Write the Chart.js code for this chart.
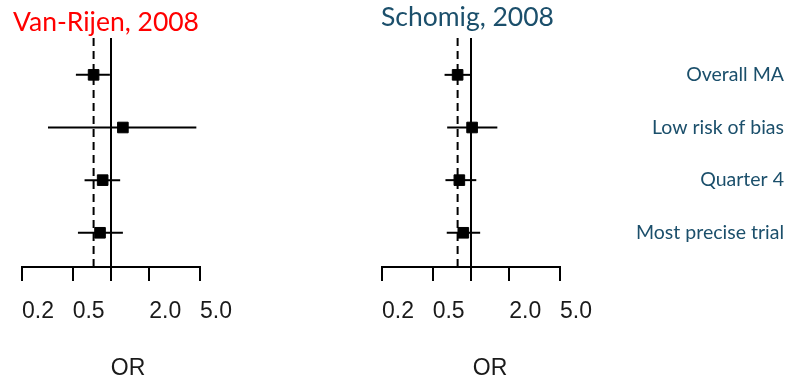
<!DOCTYPE html>
<html>
<head>
<meta charset="utf-8">
<script src="https://cdn.jsdelivr.net/npm/chart.js@4/dist/chart.umd.min.js"></script>
<style>
    html, body { margin: 0; padding: 0; background: #fff; }
    .panel { position: absolute; top: 0; height: 389px; }
    #leftPanel { left: 0; width: 360px; }
    #rightPanel { left: 360px; width: 448px; }
</style>
</head>
<body>
<div class="panel" id="leftPanel"><canvas id="leftChart"></canvas></div>
<div class="panel" id="rightPanel"><canvas id="rightChart"></canvas></div>
<script>
const rowLabels = ['Overall MA', 'Low risk of bias', 'Quarter 4', 'Most precise trial'];
const tickValues = [0.2, 0.5, 1, 2, 5];
const tickLabels = ['0.2', '0.5', '', '2.0', '5.0'];

// Van-Rijen, 2008
const vanRijenOR = [0.73, 1.24, 0.86, 0.82];
const vanRijenLow = [0.53, 0.32, 0.62, 0.55];
const vanRijenHigh = [0.98, 4.68, 1.18, 1.24];

// Schomig, 2008
const schomigOR = [0.785, 1.02, 0.81, 0.87];
const schomigLow = [0.62, 0.65, 0.63, 0.645];
const schomigHigh = [1.0, 1.61, 1.10, 1.18];

const TEAL = '#1b4f6b';
const Y_MIN = 0.3;
const Y_MAX = 4.65;

function forestDatasets(est, low, high) {
    const points = {
        data: est.map((v, i) => ({ x: v, y: i + 1 })),
        showLine: false,
        pointStyle: 'rect',
        pointRadius: 7.5,
        backgroundColor: '#000',
        borderColor: '#000',
        borderWidth: 1,
    };
    const intervals = est.map((v, i) => ({
        data: [{ x: low[i], y: i + 1 }, { x: high[i], y: i + 1 }],
        showLine: true,
        borderColor: '#000',
        borderWidth: 2,
        pointRadius: 0,
    }));
    // pooled estimate as dashed reference line
    const pooled = {
        data: [{ x: est[0], y: Y_MIN }, { x: est[0], y: Y_MAX }],
        showLine: true,
        borderColor: '#000',
        borderWidth: 2,
        borderDash: [8, 5],
        pointRadius: 0,
    };
    return [points, ...intervals, pooled];
}

function textPlugin(items) {
    return {
        id: 'panelText',
        afterDraw(chart) {
            const ctx = chart.ctx;
            ctx.save();
            items.forEach((t) => {
                ctx.font = t.font;
                ctx.fillStyle = t.color;
                ctx.textAlign = t.align || 'left';
                ctx.textBaseline = 'alphabetic';
                ctx.fillText(t.text, t.x, t.y);
            });
            ctx.restore();
        },
    };
}

function makeChart(canvasId, est, low, high, showRows, texts) {
    return new Chart(document.getElementById(canvasId), {
        type: 'scatter',
        data: { datasets: forestDatasets(est, low, high) },
        options: {
            responsive: true,
            maintainAspectRatio: false,
            animation: false,
            layout: { padding: { left: 22, right: showRows ? 24 : 160, top: 38, bottom: 0 } },
            plugins: { legend: { display: false }, tooltip: { enabled: false } },
            scales: {
                x: {
                    type: 'logarithmic',
                    min: 0.2,
                    max: 5,
                    afterBuildTicks: (scale) => { scale.ticks = tickValues.map((v) => ({ value: v })); },
                    afterFit: (scale) => { scale.height = 122; },
                    border: { display: true, color: '#000', width: 2 },
                    grid: {
                        drawOnChartArea: true,
                        color: (c) => (c.tick && c.tick.value === 1 ? '#000' : 'rgba(0,0,0,0)'),
                        lineWidth: 2,
                        tickColor: '#000',
                        tickWidth: 2,
                        tickLength: 14,
                    },
                    ticks: {
                        autoSkip: false,
                        maxRotation: 0,
                        align: 'start',
                        padding: 17,
                        color: '#1a1a1a',
                        font: { family: 'Liberation Sans', size: 23 },
                        callback: (value) => tickLabels[tickValues.indexOf(value)] ?? '',
                    },
                },
                y: {
                    type: 'linear',
                    reverse: true,
                    min: Y_MIN,
                    max: Y_MAX,
                    position: 'right',
                    display: showRows,
                    afterBuildTicks: (scale) => { scale.ticks = rowLabels.map((_, i) => ({ value: i + 1 })); },
                    afterFit: (scale) => { if (showRows) scale.width = 224; },
                    border: { display: false },
                    grid: { display: false },
                    ticks: {
                        crossAlign: 'far',
                        padding: 0,
                        color: TEAL,
                        font: { family: 'Lato', size: 19.5 },
                        callback: (value) => rowLabels[value - 1] ?? '',
                    },
                },
            },
        },
        plugins: [textPlugin(texts)],
    });
}

makeChart('leftChart', vanRijenOR, vanRijenLow, vanRijenHigh, false, [
    { text: 'Van-Rijen, 2008', x: 13, y: 31, color: '#ff0000', font: '26.5px Lato' },
    { text: 'OR', x: 128, y: 375, color: '#1a1a1a', font: '23px "Liberation Sans"', align: 'center' },
]);

makeChart('rightChart', schomigOR, schomigLow, schomigHigh, true, [
    { text: 'Schomig, 2008', x: 21, y: 26, color: TEAL, font: '26.5px Lato' },
    { text: 'OR', x: 130, y: 375, color: '#1a1a1a', font: '23px "Liberation Sans"', align: 'center' },
]);
</script>
</body>
</html>
